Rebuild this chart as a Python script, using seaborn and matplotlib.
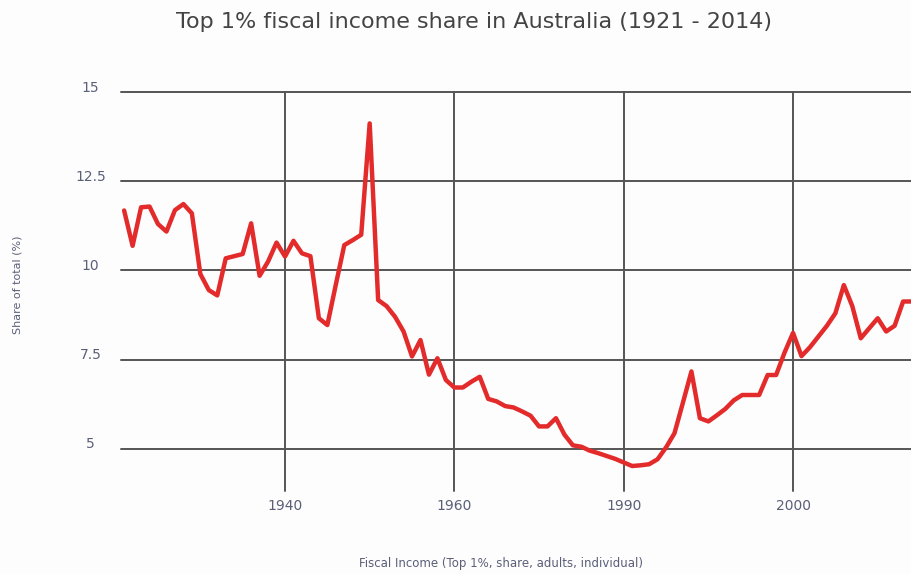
import matplotlib
matplotlib.use("Agg")
import matplotlib.pyplot as plt
import matplotlib.transforms as mtransforms
import pandas as pd
import seaborn as sns

# Top 1% fiscal income share, Australia
years = list(range(1921, 2015))
share = [
    11.68, 10.69, 11.77, 11.79, 11.30, 11.09, 11.69, 11.86, 11.60, 9.90,   # 1921-1930
    9.45, 9.30, 10.34, 10.40, 10.46, 11.32, 9.85, 10.25, 10.78, 10.39,    # 1931-1940
    10.83, 10.48, 10.40, 8.66, 8.47, 9.60, 10.71, 10.85, 11.00, 14.12,    # 1941-1950
    9.17, 9.00, 8.70, 8.29, 7.59, 8.05, 7.08, 7.54, 6.93, 6.72,           # 1951-1960
    6.72, 6.88, 7.02, 6.40, 6.33, 6.20, 6.16, 6.05, 5.93, 5.63,           # 1961-1970
    5.63, 5.86, 5.40, 5.10, 5.06, 4.95, 4.88, 4.80, 4.72, 4.62,           # 1971-1980
    4.52, 4.54, 4.57, 4.71, 5.04, 5.44, 6.30, 7.17, 5.86, 5.77,           # 1981-1990
    5.94, 6.12, 6.36, 6.51, 6.51, 6.51, 7.07, 7.07, 7.70, 8.25,           # 1991-2000
    7.60, 7.85, 8.15, 8.45, 8.80, 9.59, 9.00, 8.10, 8.38, 8.66,           # 2001-2010
    8.29, 8.45, 9.13, 9.13,                                               # 2011-2014
]

# tick positions and the labels as printed on the original
x_ticks = [1940, 1960, 1980, 2000]
x_labels = ["1940", "1960", "1990", "2000"]
y_ticks = [5, 7.5, 10, 12.5, 15]
y_labels = ["5", "7.5", "10", "12.5", "15"]

df = pd.DataFrame({"year": years, "share": share})

sns.set_style("white")
plt.rcParams["font.family"] = ["DejaVu Sans"]

fig = plt.figure(figsize=(9.12, 5.74), dpi=100)
fig.patch.set_facecolor("#fdfdfd")
ax = fig.add_axes([121 / 912, 1 - 491 / 574, 1 - 121 / 912, 399 / 574])
ax.set_facecolor("#fdfdfd")

sns.lineplot(data=df, x="year", y="share", color="#e32b2b", linewidth=3.2, ax=ax, zorder=3)

ax.set_xlim(1920.63, 2014.05)
ax.set_ylim(3.82, 15)
ax.set_xticks(x_ticks)
ax.set_xticklabels(x_labels)
ax.set_yticks(y_ticks)
ax.set_yticklabels(y_labels)

ax.grid(True, color="#555555", linewidth=1.4)
for gl in ax.get_xgridlines() + ax.get_ygridlines():
    gl.set_clip_on(False)
for s in ax.spines.values():
    s.set_visible(False)

tick_color = "#5a5f78"
ax.tick_params(axis="both", length=0, labelsize=10, labelcolor=tick_color)
ax.tick_params(axis="x", pad=6)
ax.tick_params(axis="y", pad=22)
shift = mtransforms.ScaledTranslation(0, 6 / 100, fig.dpi_scale_trans)
for lab in ax.get_yticklabels():
    lab.set_horizontalalignment("center")
    lab.set_transform(lab.get_transform() + shift)

ax.set_xlabel("")
ax.set_ylabel("")

fig.text(474 / 912, 1 - 22 / 574, "Top 1% fiscal income share in Australia (1921 - 2014)",
         ha="center", va="center", fontsize=16, color="#444444")
fig.text(18 / 912, 1 - 285 / 574, "Share of total (%)", rotation=90,
         ha="center", va="center", fontsize=8, color=tick_color)
fig.text(501 / 912, 1 - 563 / 574, "Fiscal Income (Top 1%, share, adults, individual)",
         ha="center", va="center", fontsize=8.5, color=tick_color)

fig.savefig("out.png", dpi=100, facecolor=fig.get_facecolor())
